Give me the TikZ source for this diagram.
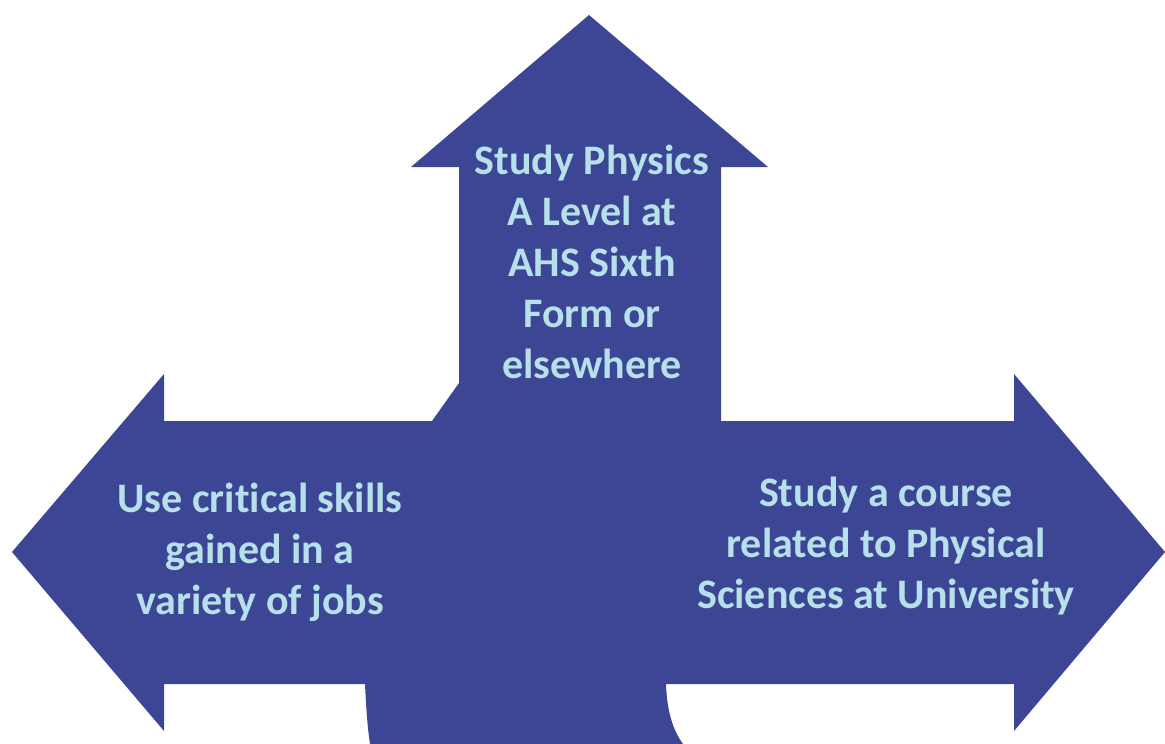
\documentclass[tikz,border=0pt]{standalone}
\usepackage{fontspec}
\setmainfont[Ligatures={NoCommon}]{Carlito}
\definecolor{arrowblue}{RGB}{60,70,148}
\definecolor{labelblue}{RGB}{182,224,234}
\begin{document}
\begin{tikzpicture}[x=1pt,y=-1pt,
  label text/.style={text=labelblue, font=\bfseries\fontsize{42}{51}\selectfont,
    align=center, inner sep=0pt}]
\useasboundingbox (0,0) rectangle (1165,744);
% three-way arrow with a curved stem rising from the bottom
\fill[arrowblue]
  (12,552) -- (164,374) -- (164,421) -- (432,421) -- (459,383)
  -- (459,167) -- (411,167) -- (589,15) -- (768,167) -- (721,167)
  -- (721,421) -- (1014,421) -- (1014,374) -- (1165,552) -- (1014,731)
  -- (1014,684) -- (666,684)
  .. controls (667,712) and (673,730) .. (683,744)
  -- (370,744)
  .. controls (367,724) and (366,704) .. (365,684)
  -- (164,684) -- (164,731) -- cycle;
\node[label text] (up) at (592,262)
  {Study Physics\\A Level at\\AHS Sixth\\Form or\\elsewhere};
\node[label text] (left) at (260,552)
  {Use critical skills\\gained in a\\variety of jobs};
\node[label text] (right) at (886,546)
  {Study a course\\related to Physical\\Sciences at University};
\end{tikzpicture}
\end{document}
